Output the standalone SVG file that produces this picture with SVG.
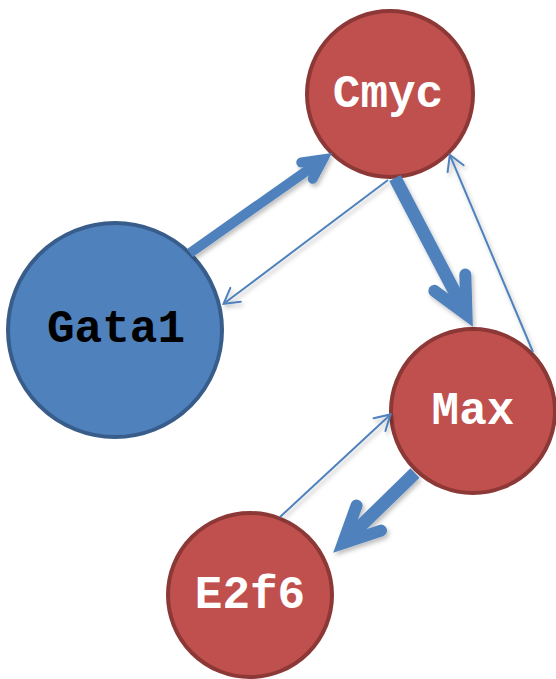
<svg xmlns="http://www.w3.org/2000/svg" width="556" height="679" viewBox="0 0 556 679">
  <style>
    .node-blue { fill: #4F81BD; stroke: #385D8A; stroke-width: 4; }
    .node-red { fill: #C0504D; stroke: #8C3836; stroke-width: 4; }
    .label { font-family: "Liberation Mono", "Courier New", monospace; font-weight: bold; font-size: 46px; text-anchor: middle; }
    .label-dark { fill: #000000; }
    .label-light { fill: #FFFFFF; }
    .edge { fill: none; stroke: #4F81BD; }
    .thick-lg { stroke-width: 13; }
    .thick-md { stroke-width: 10; }
    .thin { stroke-width: 2; }
  </style>
  <defs>
    <filter id="soft-shadow" x="-20%" y="-20%" width="140%" height="140%">
      <feDropShadow dx="2" dy="3" stdDeviation="2" flood-color="#000000" flood-opacity="0.25"/>
    </filter>
    <!-- chevron heads; the line ends where the arms meet -->
    <marker id="head-lg" orient="auto" markerUnits="userSpaceOnUse" overflow="visible" refX="0" refY="0" markerWidth="1" markerHeight="1">
      <path d="M -36 -17.5 L 0 0 L -36 17.5" fill="none" stroke="#4F81BD" stroke-width="12" stroke-linecap="round" stroke-linejoin="miter" stroke-miterlimit="10"/>
    </marker>
    <marker id="head-md" orient="auto" markerUnits="userSpaceOnUse" overflow="visible" refX="0" refY="0" markerWidth="1" markerHeight="1">
      <path d="M -19.6 -10 L 0 0 L -19.6 10" fill="none" stroke="#4F81BD" stroke-width="10" stroke-linecap="round" stroke-linejoin="miter" stroke-miterlimit="10"/>
    </marker>
    <marker id="head-thin" orient="auto" markerUnits="userSpaceOnUse" overflow="visible" refX="0" refY="0" markerWidth="1" markerHeight="1">
      <path d="M -15 -8.7 L 0 0 L -15 8.7" fill="none" stroke="#4F81BD" stroke-width="2" stroke-linecap="round" stroke-linejoin="miter"/>
    </marker>
  </defs>

  <g id="node-gata1">
    <circle class="node-blue" cx="115" cy="330" r="107"/>
    <text class="label label-dark" x="116" y="342">Gata1</text>
  </g>
  <g id="node-cmyc">
    <circle class="node-red" cx="390" cy="94" r="83"/>
    <text class="label label-light" x="388" y="107">Cmyc</text>
  </g>
  <g id="node-max">
    <circle class="node-red" cx="473" cy="411" r="82"/>
    <text class="label label-light" x="473" y="424">Max</text>
  </g>
  <g id="node-e2f6">
    <circle class="node-red" cx="250" cy="595" r="82"/>
    <text class="label label-light" x="250" y="608">E2f6</text>
  </g>

  <g id="connectors" filter="url(#soft-shadow)">
    <!-- Gata1 -> Cmyc -->
    <line class="edge thick-md" x1="190" y1="253" x2="323" y2="159.3" marker-end="url(#head-md)"/>
    <!-- Cmyc -> Gata1 -->
    <line class="edge thin" x1="388" y1="180" x2="223.6" y2="303.8" marker-end="url(#head-thin)"/>
    <!-- Cmyc -> Max -->
    <line class="edge thick-lg" x1="395" y1="178" x2="466.5" y2="314.6" marker-end="url(#head-lg)"/>
    <!-- Max -> Cmyc -->
    <line class="edge thin" x1="533" y1="352" x2="449.8" y2="154.8" marker-end="url(#head-thin)"/>
    <!-- E2f6 -> Max -->
    <line class="edge thin" x1="280" y1="517" x2="390.5" y2="414.4" marker-end="url(#head-thin)"/>
    <!-- Max -> E2f6 -->
    <line class="edge thick-lg" x1="415" y1="473" x2="343" y2="543.2" marker-end="url(#head-lg)"/>
  </g>
</svg>
